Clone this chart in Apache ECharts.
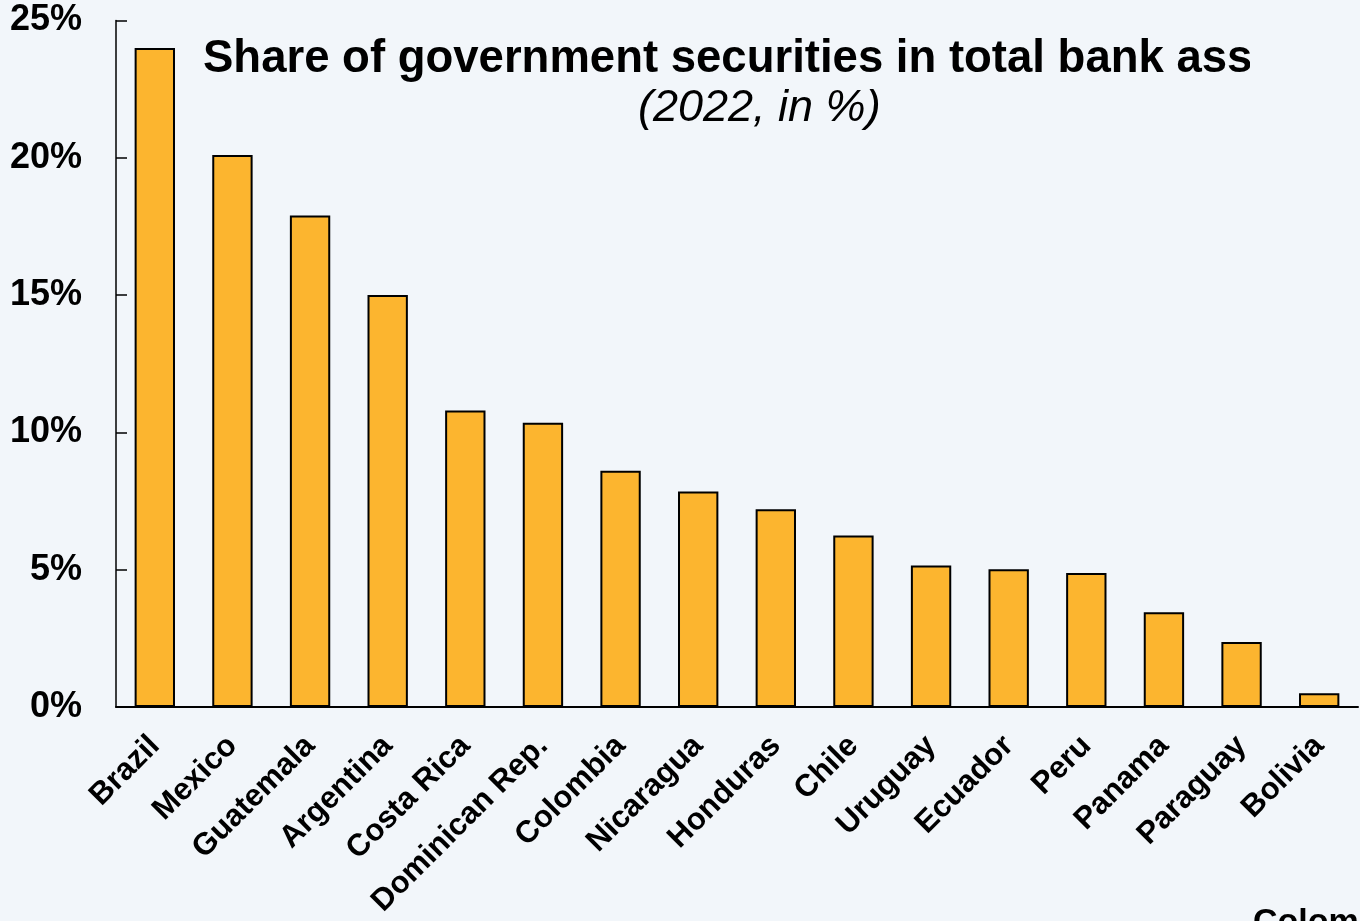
<!DOCTYPE html>
<html>
<head>
<meta charset="utf-8">
<script src="https://cdn.jsdelivr.net/npm/echarts@6/dist/echarts.min.js"></script>
<style>
html,body{margin:0;padding:0;background:#F2F6FA;}
#main{width:1360px;height:921px;}
</style>
</head>
<body>
<div id="main"></div>
<script>
const categories = ['Brazil','Mexico','Guatemala','Argentina','Costa Rica','Dominican Rep.','Colombia','Nicaragua','Honduras','Chile','Uruguay','Ecuador','Peru','Panama','Paraguay','Bolivia'];
const values = [24.0, 20.1, 17.9, 15.0, 10.8, 10.35, 8.6, 7.85, 7.2, 6.25, 5.15, 5.02, 4.88, 3.45, 2.37, 0.5];
const yTicks = [0, 5, 10, 15, 20, 25];
const titleText = 'Share of government securities in total bank assets';
const subtitleText = '(2022, in %)';
const sourceText = 'Colombia';

const font = '"Liberation Sans", Arial, Helvetica, sans-serif';
const chart = echarts.init(document.getElementById('main'));
chart.setOption({
  backgroundColor: '#F2F6FA',
  animation: false,
  grid: {left: 116, right: 2, top: 20.5, bottom: 214, containLabel: false},
  xAxis: {
    type: 'category',
    data: categories,
    axisLine: {lineStyle: {color: '#000', width: 2}},
    axisTick: {inside: true, length: 8, lineStyle: {color: '#000', width: 1.5}},
    axisLabel: {rotate: 45, margin: 34, color: '#000', fontFamily: font, fontWeight: 'bold', fontSize: 31, interval: 0}
  },
  yAxis: {
    type: 'value',
    min: yTicks[0], max: yTicks[yTicks.length - 1], interval: 5,
    splitLine: {show: false},
    axisLine: {show: true, lineStyle: {color: '#000', width: 1.5}},
    axisTick: {show: true, inside: true, length: 11, lineStyle: {color: '#000', width: 1.5}},
    axisLabel: {formatter: v => v + '%', margin: 34, color: '#000', fontFamily: font, fontWeight: 'bold', fontSize: 36}
  },
  series: [{
    type: 'bar',
    data: values,
    barWidth: '52%',
    itemStyle: {color: '#FCB52F', borderColor: '#000', borderWidth: 2}
  }],
  graphic: [
    {type: 'text', left: 203, top: 36, z: 10,
      style: {text: titleText, font: 'bold 45.5px ' + font, fill: '#000'}},
    {type: 'rect', left: 1250, top: 30, z: 11,
      shape: {width: 120, height: 60}, style: {fill: '#F2F6FA'}},
    {type: 'text', left: 638, top: 86, z: 10,
      style: {text: subtitleText, font: 'italic 45px ' + font, fill: '#000'}},
    {type: 'text', left: 1253, top: 906, z: 10,
      style: {text: sourceText, font: 'bold 34px ' + font, fill: '#000'}}
  ]
});
</script>
</body>
</html>
